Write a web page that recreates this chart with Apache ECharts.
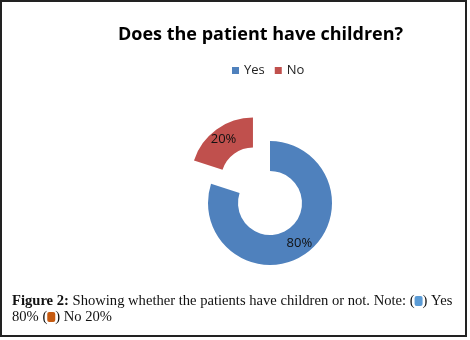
<!DOCTYPE html>
<html>
<head>
<meta charset="utf-8">
<script src="https://cdn.jsdelivr.net/npm/echarts@6/dist/echarts.min.js"></script>
<style>
  html, body { margin: 0; padding: 0; background: #fff; }
  #chart { width: 470px; height: 340px; }
</style>
</head>
<body>
<div id="chart"></div>
<script>
// answers / shares
var categories = ["Yes", "No"];
var shares = [80, 20];
var sliceColors = ["#4F81BD", "#C0504D"];

var myChart = echarts.init(document.getElementById("chart"));

var pieData = [];
for (var i = 0; i < categories.length; i++) {
  pieData.push({
    name: categories[i],
    value: shares[i],
    selected: categories[i] === "No", // exploded slice
    itemStyle: { color: sliceColors[i] }
  });
}

var option = {
  backgroundColor: "#fff",
  animation: false,
  title: {
    text: "Does the patient have children?",
    left: 113,
    top: 21,
    textStyle: {
      fontFamily: "Open Sans",
      fontWeight: "bold",
      fontSize: 18,
      color: "#000"
    }
  },
  legend: {
    left: 227,
    top: 59,
    icon: "rect",
    itemWidth: 7,
    itemHeight: 7,
    itemGap: 10,
    textStyle: {
      fontFamily: "Open Sans",
      fontSize: 13,
      color: "#222"
    },
    data: categories
  },
  series: [
    {
      type: "pie",
      center: [270, 203],
      radius: [32, 62],
      startAngle: 90,
      clockwise: true,
      selectedMode: "single",
      selectedOffset: 29,
      label: {
        show: true,
        position: "inside",
        formatter: "{c}%",
        fontFamily: "Open Sans",
        fontSize: 13,
        color: "#111"
      },
      labelLine: { show: false },
      emphasis: { disabled: true },
      data: pieData
    }
  ],
  graphic: [
    {
      type: "rect",
      shape: { x: 1, y: 1, width: 465, height: 335 },
      style: { fill: "none", stroke: "#222", lineWidth: 2 },
      silent: true
    },
    {
      type: "text",
      left: 12,
      top: 293,
      style: {
        text: "{f|Figure 2:} Showing whether the patients have children or not. Note: ({y| }) Yes\n80% ({n| }) No 20%",
        fontFamily: "Liberation Serif",
        fontSize: 14.6,
        lineHeight: 16,
        fill: "#111",
        rich: {
          f: { fontFamily: "Liberation Serif", fontSize: 14.6, fontWeight: "bold", fill: "#111" },
          y: { backgroundColor: "#5B9BD5", width: 8, height: 10, borderRadius: 2 },
          n: { backgroundColor: "#C55A11", width: 8, height: 10, borderRadius: 2 }
        }
      }
    }
  ]
};

myChart.setOption(option);
</script>
</body>
</html>
